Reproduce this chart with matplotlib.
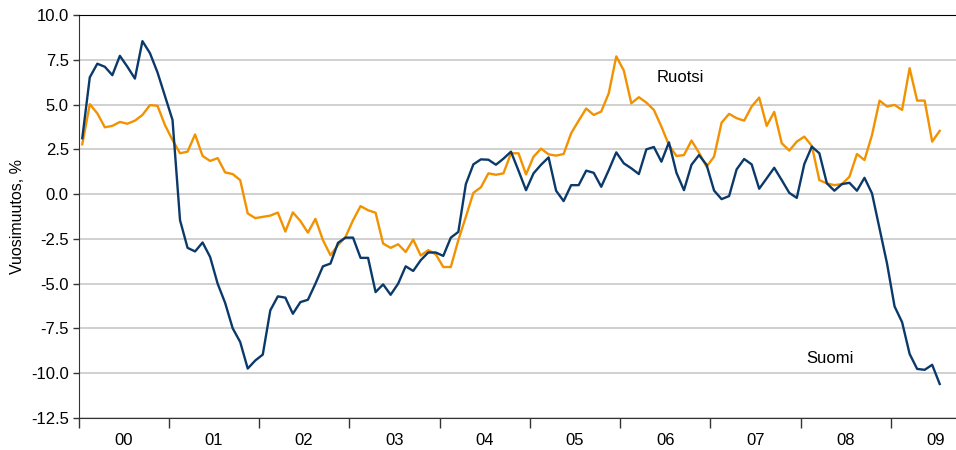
import numpy as np
import matplotlib
matplotlib.use("Agg")
import matplotlib.pyplot as plt
from matplotlib.ticker import FixedLocator, FuncFormatter

plt.rcParams["font.family"] = ["Liberation Sans", "DejaVu Sans"]
plt.rcParams["axes.unicode_minus"] = False

# ---------------------------------------------------------------------------
# DATA: monthly year-on-year change, Jan 2000 - Jul 2009
# ---------------------------------------------------------------------------
years = ["00", "01", "02", "03", "04", "05", "06", "07", "08", "09"]

suomi = [3.12, 6.52, 7.28, 7.11, 6.64, 7.72, 7.11, 6.45, 8.54, 7.87, 6.80, 5.47,
         4.14, -1.46, -3.00, -3.20, -2.70, -3.51, -5.00, -6.08, -7.49, -8.26, -9.74, -9.29,
         -8.96, -6.49, -5.71, -5.78, -6.68, -6.03, -5.90, -5.00, -4.03, -3.88, -2.72, -2.43,
         -2.43, -3.56, -3.56, -5.47, -5.04, -5.62, -5.00, -4.03, -4.29, -3.69, -3.26, -3.26,
         -3.45, -2.43, -2.11, 0.56, 1.66, 1.94, 1.92, 1.64, 1.98, 2.37, 1.31, 0.22,
         1.16, 1.64, 2.05, 0.19, -0.39, 0.50, 0.50, 1.31, 1.19, 0.41, 1.34, 2.33,
         1.72, 1.44, 1.12, 2.50, 2.63, 1.81, 2.89, 1.19, 0.22, 1.64, 2.18, 1.64,
         0.20, -0.28, -0.11, 1.38, 1.96, 1.66, 0.30, 0.88, 1.47, 0.78, 0.07, -0.21,
         1.68, 2.65, 2.28, 0.60, 0.19, 0.56, 0.63, 0.19, 0.91, 0.04, -1.92, -3.88,
         -6.27, -7.15, -8.92, -9.76, -9.81, -9.53, -10.60]

ruotsi = [2.78, 5.02, 4.51, 3.73, 3.81, 4.03, 3.93, 4.10, 4.42, 4.97, 4.93, 3.85,
          3.02, 2.28, 2.37, 3.33, 2.13, 1.85, 2.01, 1.21, 1.12, 0.78, -1.08, -1.34,
          -1.27, -1.20, -1.03, -2.09, -1.02, -1.50, -2.15, -1.38, -2.57, -3.41, -2.85, -2.39,
          -1.46, -0.67, -0.90, -1.04, -2.76, -3.00, -2.80, -3.23, -2.54, -3.43, -3.13, -3.36,
          -4.07, -4.07, -2.57, -1.27, 0.07, 0.38, 1.16, 1.08, 1.16, 2.28, 2.28, 1.10,
          2.09, 2.54, 2.22, 2.15, 2.24, 3.40, 4.10, 4.78, 4.42, 4.61, 5.63, 7.69,
          6.90, 5.07, 5.41, 5.11, 4.70, 3.77, 2.74, 2.13, 2.18, 2.99, 2.31, 1.53,
          2.09, 3.99, 4.48, 4.24, 4.10, 4.89, 5.39, 3.81, 4.59, 2.84, 2.43, 2.93,
          3.21, 2.69, 0.78, 0.60, 0.50, 0.56, 0.97, 2.24, 1.90, 3.30, 5.22, 4.89,
          4.98, 4.70, 7.03, 5.22, 5.22, 2.93, 3.53]

yticks = np.arange(-12.5, 10.01, 2.5)

# ---------------------------------------------------------------------------
# PLOT
# ---------------------------------------------------------------------------
fig = plt.figure(figsize=(9.56, 4.5), dpi=100)
ax = fig.add_axes([78.5 / 956, 32 / 450, 880 / 956, 403 / 450])

x = np.arange(len(suomi))
ax.plot(x, ruotsi, color="#f39200", lw=1.7, zorder=3)
ax.plot(x, suomi, color="#0b3a6a", lw=1.7, zorder=4)

ax.set_xlim(-0.5, 116.5)
ax.set_ylim(-12.5, 10.0)

# gridlines
ax.set_yticks(yticks)
ax.yaxis.set_major_formatter(FuncFormatter(lambda v, p: f"{v:.1f}"))
ax.grid(axis="y", color="#c8c8c8", lw=1.2, zorder=0)
ax.tick_params(axis="y", length=4, width=1, color="#333333", labelsize=12, pad=3)

# year boundaries as ticks, year labels in between
bounds = [12 * k - 0.5 for k in range(len(years))]
ax.xaxis.set_major_locator(FixedLocator(bounds))
ax.set_xticklabels([""] * len(bounds))
ax.xaxis.set_minor_locator(FixedLocator([12 * k + 5.5 for k in range(len(years))]))
ax.set_xticklabels(years, minor=True)
ax.tick_params(axis="x", which="major", length=7, width=1, color="#333333")
ax.tick_params(axis="x", which="minor", length=0, labelsize=12, pad=11)

ax.spines["right"].set_visible(False)
ax.spines["top"].set_color("black")
ax.spines["left"].set_color("#333333")
ax.spines["bottom"].set_color("#333333")

ax.text(76.3, 6.5, "Ruotsi", fontsize=12, ha="left", va="center")
ax.text(96.3, -9.2, "Suomi", fontsize=12, ha="left", va="center")

fig.text(18 / 956, 1 - 216 / 450, "Vuosimuutos, %", rotation=90,
         ha="center", va="center", fontsize=11.5)

fig.savefig("out.png", dpi=100)
